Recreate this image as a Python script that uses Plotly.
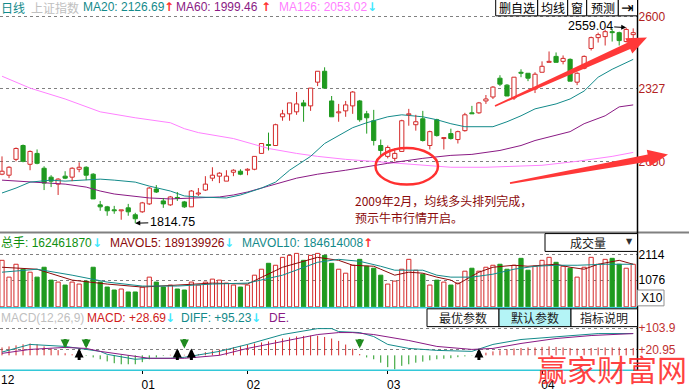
import math
import plotly.graph_objects as go

W, H = 689, 392
PR = 637.5  # right edge of chart area (px)

# ---------------- data ----------------
opens = [2001.2, 1997.4, 2057.7, 2110.4, 2038.9, 2080.3, 2023.8, 1989.9, 1963.5, 1993.7,
         1989.9, 2020.0, 2027.6, 2001.2, 1884.5, 1876.9, 1865.6, 1861.9, 1873.2, 1846.8,
         1858.1, 1888.2, 1944.7, 1899.5, 1884.5, 1912.7, 1895.8, 1876.9, 1925.9, 1940.9,
         1986.1, 1993.7, 1974.8, 2008.7, 2012.5, 2016.3, 2020.0, 2080.3, 2114.2, 2110.4,
         2219.6, 2230.9, 2238.5, 2272.4, 2261.1, 2351.4, 2392.9, 2279.9, 2234.7, 2242.2,
         2261.1, 2279.9, 2230.9, 2204.6, 2110.4, 2069.0, 2061.5, 2087.8, 2227.2, 2189.5,
         2212.1, 2110.4, 2208.4, 2136.8, 2155.6, 2133.0, 2166.9, 2234.7, 2234.7, 2279.9,
         2295.0, 2366.5, 2340.1, 2291.2, 2389.1, 2385.3, 2325.1, 2389.1, 2426.8, 2449.4,
         2430.5, 2438.1, 2351.4, 2404.2, 2479.5, 2520.9, 2524.7, 2543.5, 2539.7, 2505.9,
         2532.2]
highs = [2069.0, 2031.3, 2102.9, 2114.2, 2091.6, 2095.4, 2031.3, 1997.4, 1986.1, 2012.5,
         2027.6, 2046.4, 2031.3, 2005.0, 1899.5, 1880.7, 1880.7, 1865.6, 1888.2, 1854.3,
         1895.8, 1952.2, 1959.8, 1910.8, 1918.4, 1933.4, 1899.5, 1940.9, 1948.5, 1993.7,
         2027.6, 2008.7, 2016.3, 2020.0, 2020.0, 2023.8, 2069.0, 2118.0, 2159.4, 2193.3,
         2246.0, 2272.4, 2313.8, 2283.7, 2328.8, 2392.9, 2407.9, 2298.7, 2268.6, 2279.9,
         2317.6, 2283.7, 2242.2, 2246.0, 2133.0, 2110.4, 2099.1, 2208.4, 2249.8, 2227.2,
         2242.2, 2166.9, 2212.1, 2140.5, 2174.4, 2166.9, 2234.7, 2261.1, 2276.1, 2302.5,
         2336.4, 2377.8, 2343.9, 2370.3, 2400.4, 2385.3, 2389.1, 2430.5, 2468.2, 2464.4,
         2453.1, 2441.8, 2389.1, 2453.1, 2524.7, 2539.7, 2551.0, 2554.8, 2543.5, 2559.04,
         2556.0]
lows = [1997.4, 1986.1, 2050.2, 2046.4, 2016.3, 2038.9, 1940.9, 1952.2, 1922.1, 1982.4,
        1974.8, 2008.7, 1978.6, 1907.1, 1861.9, 1843.0, 1850.6, 1828.0, 1843.0, 1814.75,
        1854.3, 1884.5, 1929.7, 1873.2, 1880.7, 1899.5, 1873.2, 1876.9, 1918.4, 1937.2,
        1974.8, 1967.3, 1974.8, 1993.7, 1997.4, 1997.4, 2016.3, 2080.3, 2091.6, 2110.4,
        2204.6, 2204.6, 2227.2, 2200.8, 2242.2, 2336.4, 2328.8, 2219.6, 2200.8, 2219.6,
        2230.9, 2200.8, 2155.6, 2110.4, 2072.8, 2061.5, 2050.2, 2087.8, 2185.7, 2166.9,
        2125.5, 2095.4, 2144.3, 2095.4, 2133.0, 2118.0, 2163.1, 2230.9, 2230.9, 2268.6,
        2287.4, 2336.4, 2298.7, 2283.7, 2370.3, 2355.2, 2310.0, 2389.1, 2426.8, 2426.8,
        2419.2, 2355.2, 2340.1, 2400.4, 2472.0, 2502.1, 2490.8, 2505.9, 2490.8, 2502.1,
        2505.9]
closes = [2012.5, 2027.6, 2099.1, 2050.2, 2087.8, 2042.6, 1967.3, 1974.8, 1982.4, 1986.1,
          2023.8, 2027.6, 1997.4, 1907.1, 1876.9, 1861.9, 1861.9, 1865.6, 1858.1, 1831.7,
          1892.0, 1948.5, 1933.4, 1888.2, 1914.6, 1909.0, 1876.9, 1937.2, 1929.7, 1963.5,
          1997.4, 2005.0, 1993.7, 2016.3, 2001.2, 2020.0, 2069.0, 2118.0, 2110.4, 2189.5,
          2230.9, 2272.4, 2268.6, 2261.1, 2328.8, 2392.9, 2328.8, 2219.6, 2238.5, 2264.8,
          2313.8, 2208.4, 2215.9, 2129.3, 2091.6, 2102.9, 2080.3, 2204.6, 2230.9, 2200.8,
          2129.3, 2163.1, 2148.1, 2140.5, 2136.8, 2163.1, 2227.2, 2230.9, 2272.4, 2287.4,
          2332.6, 2343.9, 2298.7, 2370.3, 2385.3, 2366.5, 2381.6, 2411.7, 2430.5, 2426.8,
          2441.8, 2355.2, 2385.3, 2449.4, 2520.9, 2532.2, 2543.5, 2539.7, 2509.6, 2552.0,
          2539.7]
volumes = [1876, 1198, 1717, 1517, 1397, 1198, 1597, 1078, 998, 878,
           998, 918, 1038, 1597, 998, 798, 679, 719, 599, 599,
           798, 1198, 998, 798, 878, 719, 679, 998, 878, 998,
           1118, 1078, 958, 878, 798, 878, 1277, 1517, 1756, 1677,
           1996, 2076, 2156, 1876, 2076, 2156, 2076, 1756, 1517, 1357,
           1677, 1916, 1637, 1557, 1277, 918, 1038, 1517, 1916, 1477,
           1317, 878, 1078, 998, 878, 958, 1437, 1557, 1437, 1597,
           1677, 1717, 1517, 1677, 1956, 1477, 1637, 1876, 1996, 1796,
           1637, 1557, 1198, 1597, 1996, 1717, 1916, 1956, 1717, 1557,
           1717]

ma20_i = [0, 2, 4, 7, 9, 12, 14, 16, 19, 21, 24, 26, 28, 32, 34, 37, 39, 41, 44, 46, 48, 50,
          52, 55, 57, 60, 62, 64, 66, 70, 72, 74, 76, 79, 81, 83, 85, 87, 90]
ma20_v = [1929.7, 1948.5, 1971.1, 1978.6, 1974.8, 1978.6, 1982.4, 1978.6, 1971.1, 1956.0,
          1937.2, 1918.4, 1914.6, 1910.8, 1922.1, 1948.5, 1971.1, 2016.3, 2069.0, 2118.0,
          2148.1, 2178.2, 2197.0, 2219.6, 2227.2, 2219.6, 2208.4, 2193.3, 2181.9, 2181.9,
          2200.8, 2223.4, 2249.8, 2268.6, 2287.4, 2317.6, 2370.3, 2400.4, 2438.1]
ma60_i = [0, 4, 7, 9, 12, 14, 16, 19, 21, 24, 28, 31, 33, 35, 38, 40, 42, 45, 49, 55, 60,
          64, 67, 71, 74, 76, 79, 81, 83, 86, 88, 90]
ma60_v = [1978.6, 1971.1, 1967.3, 1963.5, 1952.2, 1937.2, 1925.9, 1918.4, 1910.8, 1907.1,
          1910.8, 1914.6, 1922.1, 1933.4, 1956.0, 1971.1, 1986.1, 2001.2, 2016.3, 2042.6,
          2061.5, 2072.8, 2076.6, 2091.6, 2110.4, 2129.3, 2148.1, 2163.1, 2193.3, 2223.4,
          2257.3, 2264.8]
ma126_i = [0, 4, 9, 14, 19, 24, 26, 28, 33, 38, 42, 45, 49, 55, 60, 64, 69, 73, 77, 82, 87, 90]
ma126_v = [2374.0, 2328.8, 2287.4, 2238.5, 2215.9, 2197.0, 2174.4, 2159.4, 2136.8, 2099.1,
           2080.3, 2069.0, 2057.7, 2046.4, 2035.1, 2027.6, 2027.6, 2031.3, 2035.1, 2050.2,
           2069.0, 2084.1]

vol5_i = [0, 5, 10, 15, 20, 25, 30, 35, 40, 45, 48, 50, 53, 54, 56, 58, 60, 62, 64, 65, 66,
          68, 70, 73, 75, 77, 79, 81, 83, 85, 88, 90]
vol5_v = [1597, 1517, 1078, 918, 798, 878, 958, 918, 1597, 1996, 1876, 1677, 1637, 1517,
          1277, 1397, 1357, 1198, 1078, 918, 1078, 1397, 1597, 1677, 1637, 1677, 1717, 1597,
          1517, 1717, 1876, 1717]
vol10_i = [0, 5, 10, 15, 20, 25, 30, 35, 40, 45, 48, 51, 54, 56, 60, 62, 64, 67, 70, 73, 76,
           79, 82, 86, 90]
vol10_v = [1397, 1517, 1277, 998, 838, 838, 918, 958, 1277, 1796, 1916, 1836, 1637, 1477,
           1477, 1277, 1198, 1198, 1317, 1517, 1637, 1677, 1677, 1717, 1717]

macd_hist = [30, 34, 38, 42, 45, 42, 34, 26, 20, 8,
             4, 2, -2, -8, -15, -23, -30, -34, -34, -34,
             -26, -15, -8, -2, 2, 3, 2, 4, 5, 12,
             18, 22, 26, 31, 36, 41, 45, 49, 53, 58,
             64, 68, 72, 74, 75, 75, 70, 64, 55, 41,
             25, 5, -8, -15, -28, -45, -53, -40, -34, -28,
             -24, -19, -15, -13, -11, -7, -4, -1, 4, 10,
             15, 19, 23, 26, 28, 30, 30, 32, 34, 32,
             30, 28, 26, 26, 28, 30, 30, 30, 30, 28,
             28]
diff_i = [0, 4, 9, 11, 14, 15, 19, 21, 24, 26, 31, 35, 40, 45, 47, 48, 51, 53, 55, 58, 62,
          67, 70, 74, 79, 85, 90]
diff_v = [12.4, 41.5, 33.9, 26.4, 15.1, 3.8, -15.1, -11.3, -11.3, -7.5, 15.1, 41.5, 79.2,
          101.8, 101.8, 90.5, 86.7, 71.6, 41.5, 26.4, 18.9, 15.1, 41.5, 60.3, 71.6, 82.9, 82.9]
dea_i = [0, 4, 9, 12, 14, 19, 21, 26, 31, 35, 40, 45, 48, 50, 53, 58, 62, 67, 70, 74, 79, 84, 90]
dea_v = [7.5, 22.6, 30.2, 26.4, 15.1, -3.8, -11.3, -11.3, 0.0, 26.4, 52.8, 79.2, 86.7, 86.7,
         79.2, 56.6, 33.9, 22.6, 26.4, 45.2, 64.1, 75.4, 82.9]
cross_dn = [9, 12, 26, 51]
cross_up = [11, 25, 27, 68]
cross_level = 26.4

month_ticks = [20, 35, 55, 77]
month_labels = ["01", "02", "03", "04"]
price_ticks = [2050, 2327, 2600]
price_labels = ["2050", "2327", "2600"]
vol_ticks = [1076, 2114]
vol_labels = ["1076", "2114"]
macd_ticks = [20.95, 103.9]
macd_labels = ["+20.95", "+103.9"]
low_idx, low_val = 19, 1814.75
high_idx, high_val = 89, 2559.04

# ---------------- colours ----------------
RED = "#d42a2a"
GRN = "#1f9a1f"
TEAL = "#138a8a"
PURP = "#8a1a84"
PINK = "#ff80ff"
CJK = "Noto Sans CJK SC"
LAT = "Liberation Sans"

n = len(opens)
idx = list(range(n))
up = [c >= o for o, c in zip(opens, closes)]

fig = go.Figure()

# moving averages on price panel
for xi, yv, col in [(ma126_i, ma126_v, PINK), (ma60_i, ma60_v, PURP), (ma20_i, ma20_v, TEAL)]:
    fig.add_trace(go.Scatter(x=xi, y=yv, mode="lines", line=dict(color=col, width=1),
                             xaxis="x", yaxis="y", hoverinfo="skip"))

# candle wicks
for is_up, col in [(True, RED), (False, GRN)]:
    wx, wy = [], []
    for i in idx:
        if up[i] != is_up:
            continue
        top = max(opens[i], closes[i])
        bot = min(opens[i], closes[i])
        wx += [i, i, None, i, i, None]
        wy += [highs[i], top, None, bot, lows[i], None]
    fig.add_trace(go.Scatter(x=wx, y=wy, mode="lines", line=dict(color=col, width=1),
                             xaxis="x", yaxis="y", hoverinfo="skip"))

# candle bodies
ux = [i for i in idx if up[i]]
dx = [i for i in idx if not up[i]]
fig.add_trace(go.Bar(x=ux, base=[opens[i] for i in ux], y=[closes[i] - opens[i] for i in ux],
                     width=0.6, marker=dict(color="white", line=dict(color=RED, width=1)),
                     xaxis="x", yaxis="y", hoverinfo="skip"))
fig.add_trace(go.Bar(x=dx, base=[closes[i] for i in dx], y=[opens[i] - closes[i] for i in dx],
                     width=0.6, marker=dict(color=GRN, line=dict(color=GRN, width=1)),
                     xaxis="x", yaxis="y", hoverinfo="skip"))

# volume bars
fig.add_trace(go.Bar(x=ux, y=[volumes[i] for i in ux], width=0.6,
                     marker=dict(color="white", line=dict(color=RED, width=1)),
                     xaxis="x", yaxis="y2", hoverinfo="skip"))
fig.add_trace(go.Bar(x=dx, y=[volumes[i] for i in dx], width=0.6,
                     marker=dict(color=GRN, line=dict(color=GRN, width=1)),
                     xaxis="x", yaxis="y2", hoverinfo="skip"))
fig.add_trace(go.Scatter(x=vol5_i, y=vol5_v, mode="lines", line=dict(color="#8b0a0a", width=1),
                         xaxis="x", yaxis="y2", hoverinfo="skip"))
fig.add_trace(go.Scatter(x=vol10_i, y=vol10_v, mode="lines", line=dict(color=TEAL, width=1),
                         xaxis="x", yaxis="y2", hoverinfo="skip"))

# MACD histogram sticks
for sign, col in [(1, RED), (-1, GRN)]:
    sx, sy = [], []
    for i in idx:
        v = macd_hist[i]
        if (v >= 0) == (sign > 0):
            sx += [i, i, None]
            sy += [0, v, None]
    fig.add_trace(go.Scatter(x=sx, y=sy, mode="lines", line=dict(color=col, width=1),
                             xaxis="x", yaxis="y3", hoverinfo="skip"))
fig.add_trace(go.Scatter(x=diff_i, y=diff_v, mode="lines", line=dict(color=TEAL, width=1),
                         xaxis="x", yaxis="y3", hoverinfo="skip"))
fig.add_trace(go.Scatter(x=dea_i, y=dea_v, mode="lines", line=dict(color=PURP, width=1),
                         xaxis="x", yaxis="y3", hoverinfo="skip"))


def X(p):
    return p / W


def Y(p):
    return 1 - p / H


shapes = []
annos = []


def line(x0, y0, x1, y1, color, width=1):
    shapes.append(dict(type="line", xref="paper", yref="paper", x0=X(x0), y0=Y(y0),
                       x1=X(x1), y1=Y(y1), line=dict(color=color, width=width)))


def rect(x0, y0, x1, y1, lc, fill, width=1):
    shapes.append(dict(type="rect", xref="paper", yref="paper", x0=X(x0), y0=Y(y0),
                       x1=X(x1), y1=Y(y1), fillcolor=fill, line=dict(color=lc, width=width)))


def txt(x, y, s, color="black", size=12, anchor="left", family=None, **kw):
    annos.append(dict(xref="paper", yref="paper", x=X(x), y=Y(y), text=s, showarrow=False,
                      xanchor=anchor, yanchor="middle",
                      font=dict(color=color, size=size, family=family or f"{LAT}, {CJK}"),
                      borderpad=0, **kw))


def arrow(tail, tip, w_tail, w_shaft, w_head, head_len, color):
    tx, ty = tail
    px_, py_ = tip
    ddx, ddy = px_ - tx, py_ - ty
    L = math.hypot(ddx, ddy)
    ux_, uy_ = ddx / L, ddy / L
    nx, ny = -uy_, ux_
    bx, by = px_ - ux_ * head_len, py_ - uy_ * head_len
    pts = [(tx + nx * w_tail, ty + ny * w_tail), (bx + nx * w_shaft, by + ny * w_shaft),
           (bx + nx * w_head, by + ny * w_head), (px_, py_),
           (bx - nx * w_head, by - ny * w_head), (bx - nx * w_shaft, by - ny * w_shaft),
           (tx - nx * w_tail, ty - ny * w_tail)]
    path = "M " + " L ".join(f"{X(a):.5f},{Y(b):.5f}" for a, b in pts) + " Z"
    shapes.append(dict(type="path", xref="paper", yref="paper", path=path,
                       fillcolor=color, line=dict(width=0)))


# panel separators / borders
line(0, 235, W, 235, "#808080", 2)
line(0, 311, PR, 311, "#33c8d8", 1.5)
line(0, 374, PR, 374, "#33c8d8", 1.5)
line(PR, 0, PR, 374, "black", 1.5)

# top buttons
tb = [495.7, 537.7, 567.7, 586.7, 618.3, PR]
tlabels = ["删自选", "均线", "窗", "预测", "⇥"]
for k in range(5):
    rect(tb[k], -1, tb[k + 1], 16, "black", "white")
    txt((tb[k] + tb[k + 1]) / 2, 8, tlabels[k], size=12 if k < 4 else 15, anchor="center",
        family=CJK if k < 4 else "DejaVu Sans")

# volume "成交量" box
rect(545, 236, PR, 254, "black", "white")
txt(588, 245, "成交量", "#202020", 12, "center", CJK)
txt(629, 244, "▼", "#303030", 8, "center", "DejaVu Sans")
# X10 box
rect(PR, 293, 664, 309, "#909090", "white")
txt(640, 301.5, "X10", "black", 12)

# MACD buttons
mb = [427, 499, 571, PR]
mlabels = ["最优参数", "默认参数", "指标说明"]
for k in range(3):
    rect(mb[k], 312, mb[k + 1], 330, "black", "#b4f4f6" if k == 1 else "white")
    txt((mb[k] + mb[k + 1]) / 2, 321, mlabels[k], "#202020", 12, "center", CJK)

# header of price panel
txt(0, 7.5, "日线", TEAL, 12, family=CJK)
txt(30, 7.5, "上证指数", "#c0c0c0", 12, family=CJK)
txt(82, 7.5, "MA20: 2126.69", TEAL, 12)
txt(169, 7.5, "<b>↑</b>", "#ff3030", 12, "center", "DejaVu Sans")
txt(175, 7.5, "MA60: 1999.46", PURP, 12)
txt(266, 7.5, "<b>↑</b>", "#ff3030", 12, "center", "DejaVu Sans")
txt(278, 7.5, "MA126: 2053.02", PINK, 12)
txt(372, 7.5, "<b>↓</b>", "#40e8ff", 12, "center", "DejaVu Sans")

# header of volume panel
txt(0, 245, "总手: 162461870", "#109010", 12)
txt(97, 245, "<b>↓</b>", "#40e8ff", 12, "center", "DejaVu Sans")
txt(109, 245, "MAVOL5: 189139926", "#8b0a0a", 12)
txt(229, 245, "<b>↓</b>", "#40e8ff", 12, "center", "DejaVu Sans")
txt(241, 245, "MAVOL10: 184614008", TEAL, 12)
txt(368, 245, "<b>↑</b>", "#ff3030", 12, "center", "DejaVu Sans")

# header of MACD panel
txt(0, 321, "MACD(12,26,9)", "#c0c0c0", 12)
txt(86, 321, "MACD: +28.69", "#d02020", 12)
txt(170, 321, "<b>↓</b>", "#40e8ff", 12, "center", "DejaVu Sans")
txt(180, 321, "DIFF: +95.23", TEAL, 12)
txt(256, 321, "<b>↓</b>", "#40e8ff", 12, "center", "DejaVu Sans")
txt(268, 321, "DE.", PURP, 12)

# first month label
txt(0, 384, "12", "black", 12)

# commentary text
txt(354, 203, "2009年2月，均线多头排列完成，", "#8b0a0a", 12, family=CJK)
txt(354, 220, "预示牛市行情开启。", "#8b0a0a", 12, family=CJK)

# circle
shapes.append(dict(type="circle", xref="paper", yref="paper", x0=X(375.5), x1=X(438),
                   y0=Y(186.5), y1=Y(149.5), line=dict(color="#ff3030", width=2.5)))

# big red arrows
arrow((495, 107), (647, 38), 0.8, 3.5, 8.5, 20, "#ff3838")
arrow((510, 185), (668, 156), 0.8, 3.5, 8.5, 20, "#ff3838")

# watermark
txt(612, 372, "赢家财富网", "rgba(255,32,32,0.85)", 30, "center", CJK)

# high / low labels
annos.append(dict(x=high_idx, y=high_val, xref="x", yref="y", text="2559.04", showarrow=True,
                  ax=-36, ay=-2, arrowhead=2, arrowsize=1, arrowwidth=1, arrowcolor="black",
                  font=dict(family=LAT, size=12.5, color="black")))
annos.append(dict(x=low_idx, y=low_val, xref="x", yref="y", text="1814.75", showarrow=True,
                  ax=37, ay=-1, arrowhead=2, arrowsize=1, arrowwidth=1, arrowcolor="black",
                  font=dict(family=LAT, size=12.5, color="black")))

# MACD cross arrows
for i in cross_dn:
    annos.append(dict(x=i, y=cross_level, xref="x", yref="y3", text="", showarrow=True,
                      ax=0, ay=-11, arrowhead=2, arrowsize=0.6, arrowwidth=3, arrowcolor="#1f8a1f"))
for i in cross_up:
    annos.append(dict(x=i, y=cross_level, xref="x", yref="y3", text="", showarrow=True,
                      ax=0, ay=13, arrowhead=2, arrowsize=0.6, arrowwidth=3, arrowcolor="black"))

grid = dict(showgrid=True, gridcolor="#808080", griddash="dot", gridwidth=1, zeroline=False,
            showline=False, ticks="", side="right", anchor="x")

fig.update_layout(
    width=W, height=H, margin=dict(l=0, r=0, t=0, b=0),
    paper_bgcolor="white", plot_bgcolor="white", showlegend=False, barmode="overlay",
    font=dict(family=f"{LAT}, {CJK}", size=12, color="black"),
    xaxis=dict(domain=[0, PR / W], range=[-0.2854, 90.611], anchor="y3", showgrid=False,
               zeroline=False, showline=False, tickmode="array", tickvals=month_ticks,
               ticktext=month_labels, ticks="outside", ticklen=3, tickcolor="black",
               ticklabelshift=6, tickfont=dict(size=12, color="black")),
    yaxis=dict(domain=[Y(235), 1], range=[1779.0, 2664.0], tickmode="array",
               tickvals=price_ticks, ticktext=price_labels,
               tickfont=dict(color="#b22222", size=12), **grid),
    yaxis2=dict(domain=[Y(311), Y(235)], range=[-40, 2994], tickmode="array",
                tickvals=vol_ticks, ticktext=vol_labels,
                tickfont=dict(color="black", size=12), **grid),
    yaxis3=dict(domain=[Y(374), Y(311)], range=[-56.55, 180.96], tickmode="array",
                tickvals=macd_ticks, ticktext=macd_labels,
                tickfont=dict(color="#c03030", size=12), **grid),
    shapes=shapes, annotations=annos,
)

fig.write_html("out.html", config={"displayModeBar": False},
               post_script="document.body.style.margin='0';document.body.style.padding='0';"
                           "document.body.style.overflow='hidden';")
